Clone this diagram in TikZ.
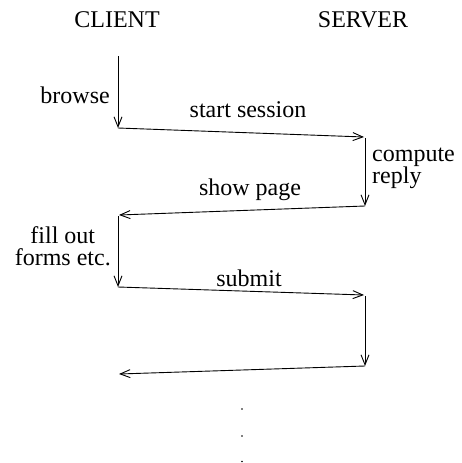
\documentclass[tikz,border=0pt]{standalone}
\usepackage{fontspec}
\setmainfont{Liberation Serif}
\usetikzlibrary{arrows.meta}
\begin{document}
\begin{tikzpicture}[x=1pt,y=-1pt,
  msg/.style={line width=0.9pt,-{Straight Barb[length=10pt,width=8pt,line width=0.9pt]}},
  lbl/.style={font=\fontsize{24}{26}\selectfont,inner sep=0pt},
  lbls/.style={font=\fontsize{24}{22}\selectfont,inner sep=0pt,align=left},
  dot/.style={circle,fill,inner sep=0pt,minimum size=1.8pt}]
\useasboundingbox (0,0) rectangle (462,463);
\node[lbl] (client) at (117,20) {CLIENT};
\node[lbl] (server) at (363,20) {SERVER};
\coordinate (c0) at (118,56);
\coordinate (c1) at (118,128);
\coordinate (s1) at (364,137);
\coordinate (s1b) at (365,138);
\coordinate (s2) at (365,206);
\coordinate (c2) at (119,215);
\coordinate (c2b) at (118,216);
\coordinate (c3) at (118,287);
\coordinate (s3) at (364,295);
\coordinate (s3b) at (365,296);
\coordinate (s4) at (365,366);
\coordinate (c4) at (119,374);
\draw[msg] (c0) -- (c1);
\draw[msg] (c1) -- (s1);
\draw[msg] (s1b) -- (s2);
\draw[msg] (s2) -- (c2);
\draw[msg] (c2b) -- (c3);
\draw[msg] (c3) -- (s3);
\draw[msg] (s3b) -- (s4);
\draw[msg] (s4) -- (c4);
\node[lbl,anchor=east] (browse) at (110,95) {browse};
\node[lbl] (start) at (248,110) {start session};
\node[lbls,anchor=west] (compute) at (372,168) {compute\\reply};
\node[lbl] (show) at (250,190) {show page};
\node[lbls,anchor=east,align=center] (fill) at (111,246) {fill out\\forms etc.};
\node[lbl] (submit) at (249,278) {submit};
\node[dot] (d1) at (242,409) {};
\node[dot] (d2) at (242,436) {};
\node[dot] (d3) at (242,461.5) {};
\end{tikzpicture}
\end{document}
